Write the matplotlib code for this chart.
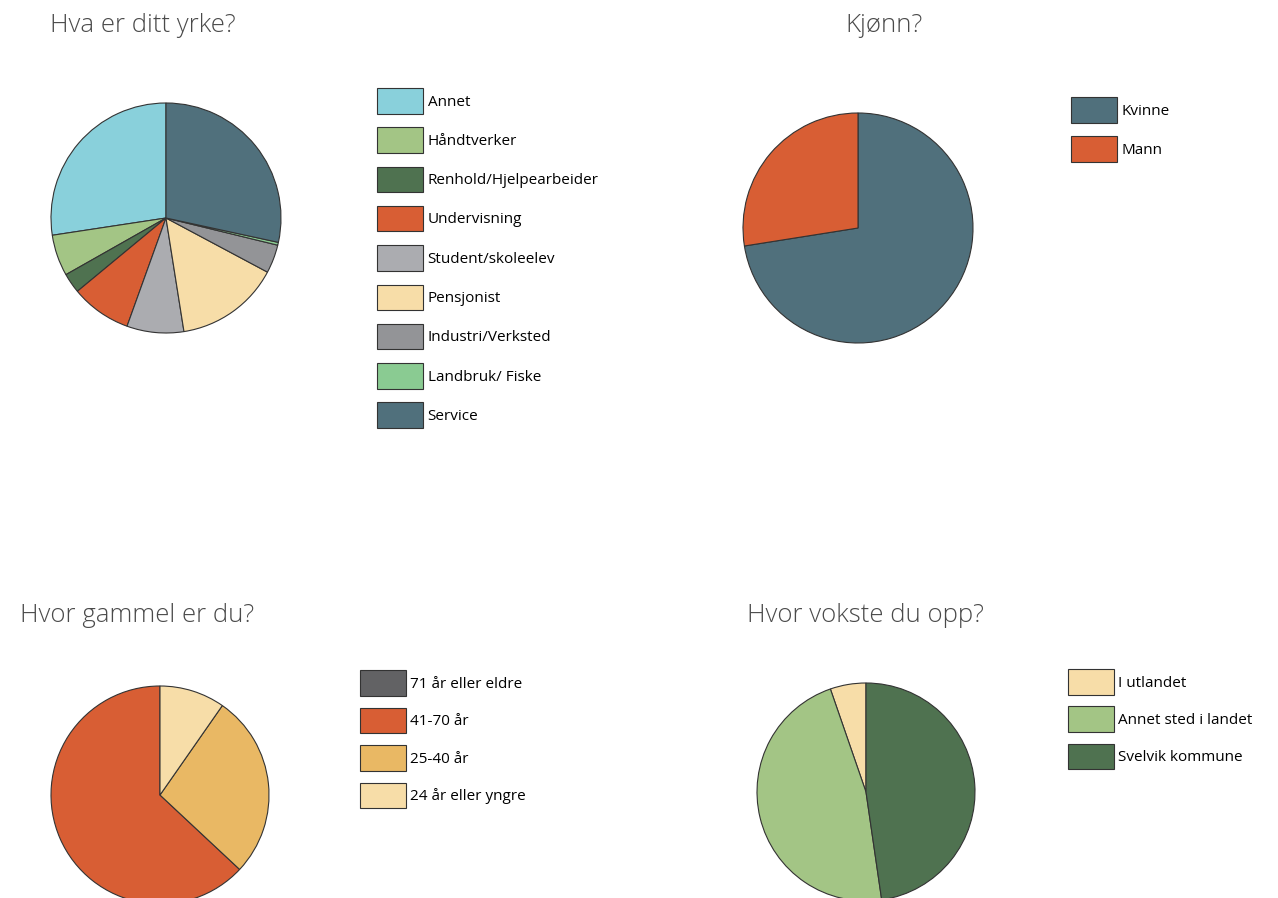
import matplotlib
matplotlib.use("Agg")
import matplotlib.pyplot as plt

W, H = 1278, 898

# data (percent)
yrke_labels = ["Annet", "Håndtverker", "Renhold/Hjelpearbeider", "Undervisning",
               "Student/skoleelev", "Pensjonist", "Industri/Verksted",
               "Landbruk/ Fiske", "Service"]
yrke_values = [27.4, 5.8, 2.8, 8.5, 8.0, 14.7, 4.0, 0.4, 28.4]
yrke_colors = ["#89D0DB", "#A3C585", "#4F7250", "#D85E34", "#ABACB0",
               "#F7DDA8", "#939497", "#8ACB92", "#50707C"]

kjonn_labels = ["Kvinne", "Mann"]
kjonn_values = [72.5, 27.5]
kjonn_colors = ["#50707C", "#D85E34"]

alder_labels = ["71 år eller eldre", "41-70 år", "25-40 år", "24 år eller yngre"]
alder_values = [0.0, 63.1, 27.3, 9.7]
alder_colors = ["#626264", "#D85E34", "#E9B864", "#F7DDA8"]

opp_labels = ["I utlandet", "Annet sted i landet", "Svelvik kommune"]
opp_values = [5.3, 47.0, 47.7]
opp_colors = ["#F7DDA8", "#A3C585", "#4F7250"]

fig = plt.figure(figsize=(W / 100, H / 100), dpi=100)
fig.patch.set_facecolor("white")

TITLE_FONT = dict(family=["Open Sans", "DejaVu Sans"], fontweight="light",
                  fontsize=18.5, color="#4a4a4a")
LEG_FONT = {"family": ["Open Sans", "DejaVu Sans"], "size": 11}

PAD = 1.03


def draw_pie(cx, cy, r, values, colors, labels, ccw, leg_xy, spacing, box_h=25.5):
    ax = fig.add_axes([(cx - r * PAD) / W, 1 - (cy + r * PAD) / H,
                       2 * r * PAD / W, 2 * r * PAD / H])
    wedges, _ = ax.pie(values, colors=colors, startangle=90, counterclock=ccw,
                       radius=1, normalize=True,
                       wedgeprops=dict(edgecolor="#333333", linewidth=0.8))
    ax.set_xlim(-PAD, PAD)
    ax.set_ylim(-PAD, PAD)
    ax.set_aspect("equal")
    fs = LEG_FONT["size"] * 100 / 72.0
    # legend handle box: height = fs*hh - 0.35*fs*(hh-0.7)
    hh = (box_h - 0.245 * fs) / (0.65 * fs)
    ax.legend(wedges, labels, loc="upper left",
              bbox_to_anchor=(leg_xy[0] / W, 1 - leg_xy[1] / H),
              bbox_transform=fig.transFigure, frameon=False,
              borderpad=0, borderaxespad=0, prop=LEG_FONT,
              handlelength=45.5 / fs, handleheight=hh,
              handletextpad=5 / fs, labelspacing=(spacing - box_h) / fs)
    return ax


draw_pie(166, 218, 115, yrke_values, yrke_colors, yrke_labels, True, (377, 88), 39.3)
draw_pie(858, 228, 115, kjonn_values, kjonn_colors, kjonn_labels, False, (1071, 97), 39.0)
draw_pie(160, 795, 109, alder_values, alder_colors, alder_labels, True, (360, 670), 37.6)
draw_pie(866, 792, 109, opp_values, opp_colors, opp_labels, True, (1068, 669), 37.4)

fig.text(50 / W, 1 - 32 / H, "Hva er ditt yrke?", ha="left", va="baseline", **TITLE_FONT)
fig.text(845 / W, 1 - 32 / H, "Kjønn?", ha="left", va="baseline", **TITLE_FONT)
fig.text(20 / W, 1 - 622 / H, "Hvor gammel er du?", ha="left", va="baseline", **TITLE_FONT)
fig.text(747 / W, 1 - 622 / H, "Hvor vokste du opp?", ha="left", va="baseline", **TITLE_FONT)

fig.savefig("out.png", dpi=100)
